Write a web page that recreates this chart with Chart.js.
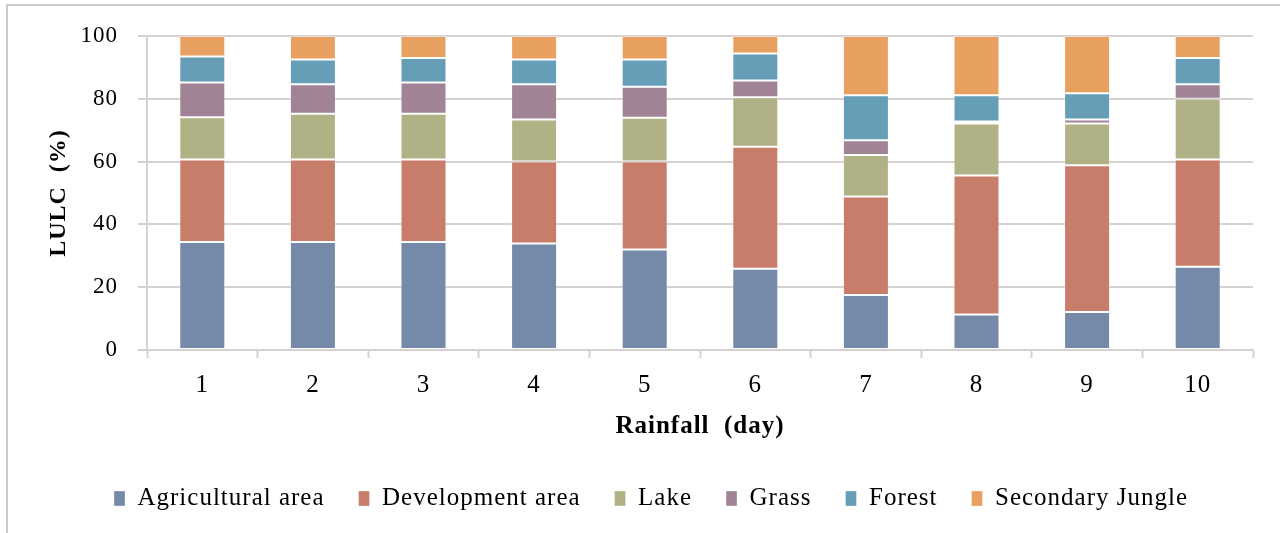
<!DOCTYPE html>
<html>
<head>
<meta charset="utf-8">
<script src="https://cdn.jsdelivr.net/npm/chart.js@4"></script>
<style>
  html, body { margin: 0; padding: 0; background: #ffffff; }
  #wrap { position: relative; width: 1280px; height: 533px; }
  canvas { display: block; }
</style>
</head>
<body>
<div id="wrap"><canvas id="lulc" width="1280" height="533"></canvas></div>
<script>
// Rainfall days on the x axis
const days = ['1', '2', '3', '4', '5', '6', '7', '8', '9', '10'];

// Land use / land cover share (%) per day, stacked to 100
const agricultural = [34.4, 34.4, 34.4, 33.9, 32.0, 25.9, 17.5, 11.3, 12.1, 26.5];
const development  = [26.3, 26.3, 26.3, 26.1, 28.0, 38.8, 31.4, 44.3, 46.7, 34.2];
const lake         = [13.4, 14.5, 14.5, 13.4, 14.0, 15.8, 13.2, 16.5, 13.3, 19.3];
const grass        = [11.1,  9.4, 10.0, 11.2,  9.8,  5.3,  4.7,  0.7,  1.3,  4.6];
const forest       = [ 8.3,  7.9,  7.8,  7.9,  8.7,  8.6, 14.3,  8.3,  8.4,  8.4];
const secondary    = [ 6.5,  7.5,  7.0,  7.5,  7.5,  5.6, 18.9, 18.9, 18.2,  7.0];

const seriesNames = ['Agricultural area', 'Development area', 'Lake', 'Grass', 'Forest', 'Secondary Jungle'];
const seriesColors = ['#7589a8', '#c77d69', '#b0b285', '#a08496', '#669eb8', '#e8a060'];
const seriesValues = [agricultural, development, lake, grass, forest, secondary];

const yTicks = [0, 20, 40, 60, 80, 100];

const FONT = '"Liberation Serif", "Times New Roman", serif';
const GRID = '#d6d0d0';
const SPACING = '1px';

// Canvas letter spacing (reset whenever the canvas is resized)
const textSpacing = {
  id: 'textSpacing',
  beforeUpdate(chart) { chart.ctx.letterSpacing = SPACING; },
  beforeLayout(chart) { chart.ctx.letterSpacing = SPACING; },
  beforeDraw(chart) { chart.ctx.letterSpacing = SPACING; }
};

// White background and a thin frame along the top and left edges
const frame = {
  id: 'frame',
  beforeDraw(chart) {
    const ctx = chart.ctx;
    ctx.save();
    ctx.fillStyle = '#ffffff';
    ctx.fillRect(0, 0, chart.width, chart.height);
    ctx.strokeStyle = '#cfcaca';
    ctx.lineWidth = 2;
    ctx.beginPath();
    ctx.moveTo(7, chart.height);
    ctx.lineTo(7, 5);
    ctx.lineTo(chart.width, 5);
    ctx.stroke();
    ctx.restore();
  }
};

new Chart(document.getElementById('lulc'), {
  type: 'bar',
  data: {
    labels: days,
    datasets: seriesNames.map((name, i) => ({
      label: name,
      data: seriesValues[i],
      backgroundColor: seriesColors[i],
      borderColor: 'rgba(255,255,255,0.35)',
      borderWidth: 1,
      borderSkipped: false,
      barPercentage: 0.416,
      categoryPercentage: 1.0
    }))
  },
  options: {
    responsive: false,
    devicePixelRatio: 1,
    animation: false,
    layout: { padding: { left: 49, right: 27, top: 36, bottom: 12 } },
    plugins: {
      title: { display: false },
      tooltip: { enabled: false },
      legend: {
        position: 'bottom',
        align: 'center',
        labels: {
          boxWidth: 11,
          boxHeight: 15,
          padding: 34,
          color: '#000000',
          font: { family: FONT, size: 25 }
        }
      }
    },
    scales: {
      x: {
        stacked: true,
        offset: true,
        grid: {
          offset: true,
          drawOnChartArea: false,
          drawTicks: true,
          tickLength: 8,
          tickWidth: 2,
          tickColor: GRID
        },
        border: { display: true, color: GRID, width: 2 },
        ticks: {
          color: '#000000',
          padding: 12,
          font: { family: FONT, size: 25 }
        },
        title: {
          display: true,
          text: 'Rainfall  (day)',
          color: '#000000',
          padding: { top: 0, bottom: 10 },
          font: { family: FONT, size: 25, weight: 'bold' }
        }
      },
      y: {
        stacked: true,
        min: 0,
        max: 100,
        afterBuildTicks(scale) { scale.ticks = yTicks.map(v => ({ value: v })); },
        afterFit(scale) { scale.width = 98; },
        grid: {
          color: GRID,
          lineWidth: 2,
          drawTicks: true,
          tickLength: 9,
          tickWidth: 2,
          tickColor: GRID
        },
        border: { display: true, color: GRID, width: 2 },
        ticks: {
          color: '#000000',
          padding: 20,
          font: { family: FONT, size: 23 }
        },
        title: {
          display: true,
          text: 'LULC  (%)',
          color: '#000000',
          padding: { top: -5, bottom: 0 },
          font: { family: FONT, size: 24, weight: 'bold' }
        }
      }
    }
  },
  plugins: [textSpacing, frame]
});
</script>
</body>
</html>
